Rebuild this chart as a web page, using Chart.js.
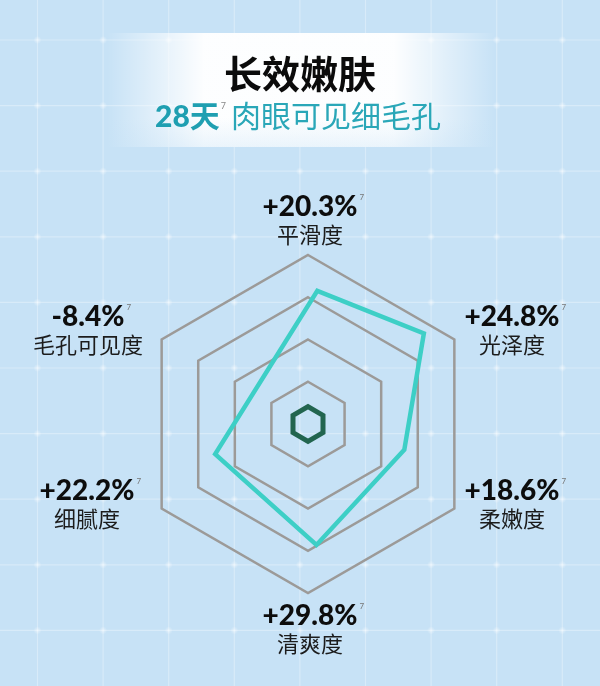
<!DOCTYPE html>
<html lang="zh-CN">
<head>
<meta charset="utf-8">
<title>长效嫩肤</title>
<script src="https://cdn.jsdelivr.net/npm/chart.js@4.4.1/dist/chart.umd.min.js"></script>
<style>
  html, body { margin: 0; padding: 0; background: #c7e2f6; }
  #wrap { width: 600px; height: 686px; }
</style>
</head>
<body>
<div id="wrap"><canvas id="radar" width="600" height="686"></canvas></div>
<script>
// six axes, clockwise from the top
const axisLabels = ['平滑度', '光泽度', '柔嫩度', '清爽度', '细腻度', '毛孔可见度'];
const changes = [20.3, 24.8, 18.6, 29.8, 22.2, -8.4];

// small dark hexagon in the middle
const coreValues = [0.41, 0.41, 0.41, 0.41, 0.41, 0.41];

// turquoise outline: its corners do not sit on the axes,
// so each corner is a bearing (deg, clockwise from top) and a radius in ring units
const shapeBearings = [4, 52, 105, 176, 252];
const shapeValues = [3.16, 3.48, 2.36, 2.87, 2.31];

// one slot per degree for the outline scale
const bearingSlots = Array.from({ length: 360 }, (_, i) => i);
const shapeData = bearingSlots.map(() => null);
shapeBearings.forEach((b, i) => { shapeData[b] = shapeValues[i]; });

const fmtChange = v => (v > 0 ? '+' : '') + v.toFixed(1) + '%';

const backdrop = {
  id: 'backdrop',
  beforeDraw(chart) {
    const { ctx, width, height } = chart;
    ctx.save();
    ctx.fillStyle = '#c7e2f6';
    ctx.fillRect(0, 0, width, height);

    // faint tile lines
    const step = 65.6;
    ctx.strokeStyle = 'rgba(255,255,255,0.3)';
    ctx.lineWidth = 1.2;
    for (let x = 37.5; x < width; x += step) {
      ctx.beginPath(); ctx.moveTo(x, 0); ctx.lineTo(x, height); ctx.stroke();
    }
    for (let y = 40 - step; y < height; y += step) {
      if (y < 0) continue;
      ctx.beginPath(); ctx.moveTo(0, y); ctx.lineTo(width, y); ctx.stroke();
    }
    // soft dots where they cross
    for (let x = 37.5; x < width; x += step) {
      for (let y = 40; y < height; y += step) {
        const g = ctx.createRadialGradient(x, y, 0, x, y, 4);
        g.addColorStop(0, 'rgba(255,255,255,0.5)');
        g.addColorStop(1, 'rgba(255,255,255,0)');
        ctx.fillStyle = g;
        ctx.fillRect(x - 4, y - 4, 8, 8);
      }
    }

    // title banner
    const band = ctx.createLinearGradient(107, 0, 495, 0);
    band.addColorStop(0, 'rgba(255,255,255,0)');
    band.addColorStop(0.25, 'rgba(255,255,255,0.96)');
    band.addColorStop(0.74, 'rgba(255,255,255,0.96)');
    band.addColorStop(1, 'rgba(255,255,255,0)');
    ctx.fillStyle = band;
    ctx.fillRect(107, 33, 388, 114);
    const tint = ctx.createLinearGradient(0, 118, 0, 147);
    tint.addColorStop(0, 'rgba(199,226,246,0)');
    tint.addColorStop(1, 'rgba(199,226,246,0.35)');
    ctx.fillStyle = tint;
    ctx.fillRect(107, 118, 388, 29);
    ctx.restore();
  },
};

const CJK = '"Noto Sans CJK SC", sans-serif';
const NUM = 'Lato, "Noto Sans", sans-serif';

function drawRow(ctx, pieces, cx, baseline) {
  let total = 0;
  pieces.forEach(p => {
    ctx.font = p.font;
    p.w = ctx.measureText(p.text).width;
    total += p.w + (p.gap || 0);
  });
  let x = cx - total / 2;
  pieces.forEach(p => {
    ctx.font = p.font;
    ctx.fillStyle = p.color;
    ctx.fillText(p.text, x, baseline + (p.dy || 0));
    x += p.w + (p.gap || 0);
  });
}

// where each caption block sits, relative to the radar centre
const captionOffsets = [
  [2, -218], [204, -108], [204, 66], [2, 191], [-221, 66], [-220, -108],
];

const captions = {
  id: 'captions',
  afterDraw(chart) {
    const { ctx } = chart;
    const scale = chart.scales.r;
    ctx.save();
    ctx.textAlign = 'left';
    ctx.textBaseline = 'alphabetic';

    // heading
    ctx.font = `bold 38px ${CJK}`;
    ctx.fillStyle = '#0b0b0b';
    ctx.textAlign = 'center';
    ctx.fillText('长效嫩肤', 300, 88);
    ctx.textAlign = 'left';

    drawRow(ctx, [
      { text: '28', font: `900 30px ${NUM}`, color: '#1f9fb1' },
      { text: '天', font: `bold 30px ${CJK}`, color: '#1f9fb1', gap: 1 },
      { text: '7', font: `9px ${NUM}`, color: '#888', dy: -18, gap: 5 },
      { text: '肉眼可见细毛孔', font: `30px ${CJK}`, color: '#2aa7b8' },
    ], 298, 127);

    // axis captions
    axisLabels.forEach((name, i) => {
      const [dx, dy] = captionOffsets[i];
      const cx = scale.xCenter + dx;
      const cy = scale.yCenter + dy;
      const num = fmtChange(changes[i]);
      ctx.font = `900 28px ${NUM}`;
      const w = ctx.measureText(num).width;
      ctx.fillStyle = '#0d0d0d';
      ctx.fillText(num, cx - w / 2, cy + 10);
      ctx.font = `8px ${NUM}`;
      ctx.fillStyle = '#777';
      ctx.fillText('7', cx + w / 2 + 2, cy - 6);

      ctx.font = `22px ${CJK}`;
      ctx.fillStyle = '#1c1c1c';
      const lw = ctx.measureText(name).width;
      ctx.fillText(name, cx - lw / 2, cy + 29 + 8.4);
    });
    ctx.restore();
  },
};

new Chart(document.getElementById('radar'), {
  type: 'radar',
  data: {
    labels: axisLabels,
    datasets: [
      {
        label: '轮廓',
        data: shapeData,
        rAxisID: 'shape',
        borderColor: '#3dcfc6',
        borderWidth: 4.5,
        borderJoinStyle: 'miter',
        pointRadius: 0,
        spanGaps: true,
        fill: false,
      },
      {
        label: '中心',
        data: coreValues,
        rAxisID: 'r',
        borderColor: '#22654f',
        borderWidth: 5,
        borderJoinStyle: 'miter',
        pointRadius: 0,
        fill: false,
      },
    ],
  },
  options: {
    responsive: false,
    animation: false,
    events: [],
    layout: { padding: { left: 139, top: 255, right: 123, bottom: 93 } },
    scales: {
      r: {
        type: 'radialLinear',
        min: 0,
        max: 4,
        ticks: { display: false, stepSize: 1 },
        grid: { color: '#9c9a98', lineWidth: 2.5 },
        angleLines: { display: false },
        pointLabels: { display: false },
      },
      shape: {
        type: 'radialLinear',
        axis: 'r',
        display: false,
        min: 0,
        max: 4,
        labels: bearingSlots,
        ticks: { display: false },
        pointLabels: { display: false },
      },
    },
    plugins: {
      legend: { display: false },
      tooltip: { enabled: false },
    },
  },
  plugins: [backdrop, captions],
});
</script>
</body>
</html>
